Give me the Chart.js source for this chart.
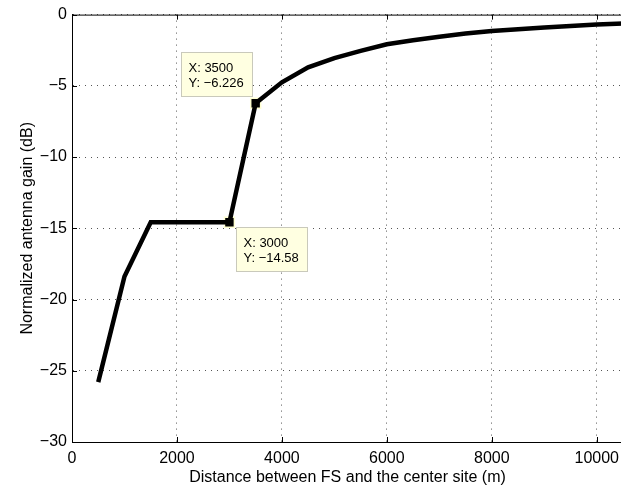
<!DOCTYPE html>
<html>
<head>
<meta charset="utf-8">
<script src="https://cdn.jsdelivr.net/npm/chart.js@4.4.1/dist/chart.umd.min.js"></script>
<style>
    html, body { margin: 0; padding: 0; overflow: hidden; background: #fff; }
    #gain-chart { display: block; }
</style>
</head>
<body>
<canvas id="gain-chart" width="623" height="493"></canvas>
<script>
// Distancia (m) y ganancia normalizada (dB)
const distances = [500, 1000, 1500, 2000, 2500, 3000, 3500, 4000, 4500, 5000, 5500,
    6000, 6500, 7000, 7500, 8000, 8500, 9000, 9500, 10000, 10500];
const gains = [-25.8, -18.38, -14.58, -14.58, -14.58, -14.58, -6.226, -4.75, -3.7, -3.05, -2.55,
    -2.08, -1.8, -1.55, -1.33, -1.15, -1.02, -0.9, -0.8, -0.7, -0.62];

// Puntos marcados con data tip
const tipDistances = [3500, 3000];
const tipLabels = [['X: 3500', 'Y: \u22126.226'], ['X: 3000', 'Y: \u221214.58']];

const xTicks = [0, 2000, 4000, 6000, 8000, 10000];
const yTicks = [0, -5, -10, -15, -20, -25, -30];

const FONT = '"Liberation Sans", Arial, Helvetica, sans-serif';

const tipPoints = tipDistances.map(d => ({ x: d, y: gains[distances.indexOf(d)] }));

// Marco superior, ticks hacia adentro y cajas de data tip
const matlabFrame = {
    id: 'matlabFrame',
    afterDatasetsDraw(chart) {
        const ctx = chart.ctx;
        const area = chart.chartArea;
        const xs = chart.scales.x;
        const ys = chart.scales.y;
        ctx.save();
        ctx.strokeStyle = '#000';
        ctx.lineWidth = 1;
        ctx.beginPath();
        ctx.moveTo(area.left, area.top + 0.5);
        ctx.lineTo(area.right, area.top + 0.5);
        ctx.stroke();
        ctx.beginPath();
        xTicks.forEach(v => {
            const px = Math.round(xs.getPixelForValue(v)) + 0.5;
            ctx.moveTo(px, area.bottom);
            ctx.lineTo(px, area.bottom - 5);
            ctx.moveTo(px, area.top);
            ctx.lineTo(px, area.top + 5);
        });
        yTicks.forEach(v => {
            const py = Math.round(ys.getPixelForValue(v)) + 0.5;
            ctx.moveTo(area.left, py);
            ctx.lineTo(area.left + 5, py);
        });
        ctx.stroke();

        // Cajas de data tip
        ctx.font = '13px ' + FONT;
        ctx.textBaseline = 'alphabetic';
        tipPoints.forEach((p, i) => {
            const px = xs.getPixelForValue(p.x);
            const py = ys.getPixelForValue(p.y);
            const w = 71, h = 44;
            let bx, by;
            if (i === 0) {
                bx = px - 4 - w;
                by = py - 7 - h;
            } else {
                bx = px + 6.5;
                by = py + 5;
            }
            bx = Math.round(bx) + 0.5;
            by = Math.round(by) + 0.5;
            ctx.fillStyle = '#ffffe1';
            ctx.fillRect(bx, by, w, h);
            ctx.strokeStyle = '#c9c9bb';
            ctx.strokeRect(bx, by, w, h);
            ctx.fillStyle = '#000';
            ctx.fillText(tipLabels[i][0], bx + 7, by + 19.5);
            ctx.fillText(tipLabels[i][1], bx + 7, by + 34.5);
        });
        ctx.restore();
    }
};

const minus = v => String(v).replace('-', '\u2212');

new Chart(document.getElementById('gain-chart'), {
    type: 'line',
    data: {
        datasets: [{
            data: distances.map((d, i) => ({ x: d, y: gains[i] })),
            borderColor: '#000',
            borderWidth: 4.5,
            borderJoinStyle: 'miter',
            pointRadius: 0,
            tension: 0
        }, {
            data: tipPoints,
            showLine: false,
            pointStyle: 'rect',
            pointRadius: 7,
            pointBackgroundColor: '#000',
            pointBorderColor: '#ffffd2',
            pointBorderWidth: 1.5
        }]
    },
    options: {
        responsive: false,
        animation: false,
        layout: { autoPadding: false, padding: { top: 14, right: 0, left: 0, bottom: 0 } },
        plugins: {
            legend: { display: false },
            tooltip: { enabled: false }
        },
        scales: {
            x: {
                type: 'linear',
                min: 0,
                max: 10500,
                afterFit: scale => {
                    scale.height = 51;
                    scale.paddingLeft = 0;
                    scale.paddingRight = 0;
                },
                afterBuildTicks: scale => { scale.ticks = xTicks.map(v => ({ value: v })); },
                ticks: {
                    padding: 7,
                    color: '#000',
                    font: { family: FONT, size: 16 },
                    maxRotation: 0,
                    autoSkip: false,
                    callback: value => String(value)
                },
                grid: { color: '#555', drawTicks: false, lineWidth: 1 },
                border: { color: '#000', width: 1, dash: [1, 5] },
                title: {
                    display: true,
                    text: 'Distance between FS and the center site (m)',
                    color: '#000',
                    font: { family: FONT, size: 16 },
                    padding: { top: 0, bottom: 6 }
                }
            },
            y: {
                min: -30,
                max: 0,
                afterFit: scale => { scale.width = 72; },
                afterBuildTicks: scale => { scale.ticks = yTicks.map(v => ({ value: v })); },
                ticks: {
                    padding: 5,
                    color: '#000',
                    font: { family: FONT, size: 16 },
                    autoSkip: false,
                    callback: value => minus(value)
                },
                grid: { color: '#555', drawTicks: false, lineWidth: 1 },
                border: { color: '#000', width: 1, dash: [1, 5] },
                title: {
                    display: true,
                    text: 'Normalized antenna gain (dB)',
                    color: '#000',
                    font: { family: FONT, size: 16 },
                    padding: { top: 18, bottom: 0 }
                }
            }
        }
    },
    plugins: [matlabFrame]
});
</script>
</body>
</html>
